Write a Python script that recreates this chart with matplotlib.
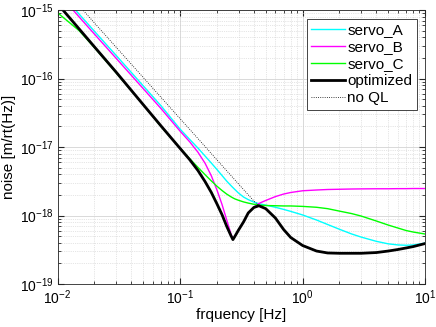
import matplotlib
matplotlib.use("Agg")
import matplotlib.pyplot as plt
import numpy as np

plt.rcParams['font.family'] = ['Liberation Sans', 'DejaVu Sans']
plt.rcParams['mathtext.fontset'] = 'custom'
plt.rcParams['mathtext.rm'] = 'Liberation Sans'
plt.rcParams['mathtext.it'] = 'Liberation Sans'
plt.rcParams['mathtext.default'] = 'regular'

# frequency points [Hz]
freq = [0.01, 0.015, 0.02, 0.03, 0.05, 0.07, 0.1, 0.12, 0.14, 0.16, 0.18, 0.2,
        0.22, 0.24, 0.26, 0.27, 0.28, 0.3, 0.33, 0.36, 0.4, 0.44, 0.5, 0.6,
        0.7, 0.8, 1.0, 1.3, 1.6, 2.0, 2.5, 3.0, 4.0, 5.0, 6.0, 7.0, 8.0, 10.0]

# noise [m/rt(Hz)]
servo_A = [1.97e-15, 8.74e-16, 4.91e-16, 2.19e-16, 7.85e-17, 3.99e-17, 1.83e-17,
           1.29e-17, 9.66e-18, 7.39e-18, 5.84e-18, 4.70e-18, 3.84e-18, 3.19e-18,
           2.74e-18, 2.56e-18, 2.40e-18, 2.13e-18, 1.86e-18, 1.71e-18, 1.57e-18,
           1.49e-18, 1.42e-18, 1.32e-18, 1.23e-18, 1.15e-18, 1.02e-18, 8.60e-19,
           7.40e-19, 6.30e-19, 5.40e-19, 4.85e-19, 4.20e-19, 3.86e-19, 3.72e-19,
           3.68e-19, 3.72e-19, 3.95e-19]
servo_B = [1.80e-15, 7.96e-16, 4.47e-16, 1.99e-16, 7.15e-17, 3.64e-17, 1.71e-17,
           1.19e-17, 8.40e-18, 5.80e-18, 3.80e-18, 2.36e-18, 1.45e-18, 8.69e-19,
           5.42e-19, 4.50e-19, 4.95e-19, 6.14e-19, 8.09e-19, 1.09e-18, 1.33e-18,
           1.50e-18, 1.66e-18, 1.89e-18, 2.06e-18, 2.17e-18, 2.30e-18, 2.36e-18,
           2.40e-18, 2.42e-18, 2.44e-18, 2.45e-18, 2.46e-18, 2.46e-18, 2.47e-18,
           2.47e-18, 2.48e-18, 2.48e-18]
servo_C = [9.16e-16, 5.02e-16, 2.84e-16, 1.22e-16, 4.17e-17, 1.99e-17, 9.66e-18,
           6.75e-18, 5.05e-18, 3.95e-18, 3.20e-18, 2.68e-18, 2.32e-18, 2.06e-18,
           1.88e-18, 1.81e-18, 1.75e-18, 1.67e-18, 1.58e-18, 1.52e-18, 1.46e-18,
           1.42e-18, 1.40e-18, 1.39e-18, 1.38e-18, 1.38e-18, 1.36e-18, 1.32e-18,
           1.26e-18, 1.16e-18, 1.07e-18, 9.84e-19, 8.32e-19, 7.26e-19, 6.57e-19,
           6.04e-19, 5.74e-19, 5.37e-19]
optimized = [1.24e-15, 5.32e-16, 2.91e-16, 1.25e-16, 4.17e-17, 2.03e-17, 9.57e-18,
             6.53e-18, 4.54e-18, 3.13e-18, 2.17e-18, 1.48e-18, 1.03e-18, 7.00e-19,
             5.10e-19, 4.45e-19, 4.95e-19, 6.14e-19, 8.09e-19, 1.09e-18, 1.31e-18,
             1.39e-18, 1.26e-18, 9.20e-19, 6.25e-19, 4.78e-19, 3.65e-19, 3.03e-19,
             2.84e-19, 2.81e-19, 2.81e-19, 2.81e-19, 2.88e-19, 3.03e-19, 3.19e-19,
             3.36e-19, 3.52e-19, 3.90e-19]
no_QL = [2.60e-15, 1.16e-15, 6.50e-16, 2.89e-16, 1.04e-16, 5.31e-17, 2.60e-17,
         1.81e-17, 1.33e-17, 1.02e-17, 8.02e-18, 6.50e-18, 5.37e-18, 4.51e-18,
         3.85e-18, 3.57e-18, 3.32e-18, 2.89e-18, 2.39e-18, 2.01e-18, 1.63e-18,
         1.39e-18, 1.26e-18, 9.20e-19, 6.25e-19, 4.78e-19, 3.65e-19, 3.03e-19,
         2.84e-19, 2.81e-19, 2.81e-19, 2.81e-19, 2.88e-19, 3.03e-19, 3.19e-19,
         3.36e-19, 3.52e-19, 3.90e-19]

fig = plt.figure(figsize=(4.36, 3.27), dpi=100)
ax = fig.add_axes([0.132, 0.1315, 0.843, 0.8375])

ax.loglog(freq, servo_A, color=(0, 1, 1), lw=1.0, label='servo_A')
ax.loglog(freq, servo_B, color=(1, 0, 1), lw=1.0, label='servo_B')
ax.loglog(freq, servo_C, color=(0, 1, 0), lw=1.0, label='servo_C')
ax.loglog(freq, optimized, color='k', lw=2.0, label='optimized')
ax.loglog(freq, no_QL, color='k', lw=0.6, ls=':', label='no QL')

ax.set_xlim(1e-2, 1e1)
ax.set_ylim(1e-19, 1e-15)
ax.set_xlabel('frquency [Hz]', fontsize=11, labelpad=1)
ax.set_ylabel('noise [m/rt(Hz)]', fontsize=11, labelpad=3)

ax.grid(True, which='major', color='0.85', lw=0.7, ls='-')
ax.grid(True, which='minor', color='0.8', lw=0.5, ls=':')
ax.tick_params(which='both', direction='in', top=True, right=True,
               colors='0.15', labelsize=10, labelcolor='k')
ax.tick_params(which='major', length=4)
ax.tick_params(which='minor', length=2)
ax.tick_params(axis='x', pad=3)
ax.tick_params(axis='y', pad=3)
for s in ax.spines.values():
    s.set_color('0.15')
    s.set_linewidth(0.6)

leg = ax.legend(loc='upper right', fontsize=11, fancybox=False, framealpha=1,
                edgecolor='0.15', handlelength=2.2, handletextpad=0.15,
                borderpad=0.3, labelspacing=0.2, borderaxespad=0.55)
leg.get_frame().set_linewidth(0.6)

fig.savefig('out.png', dpi=100)
